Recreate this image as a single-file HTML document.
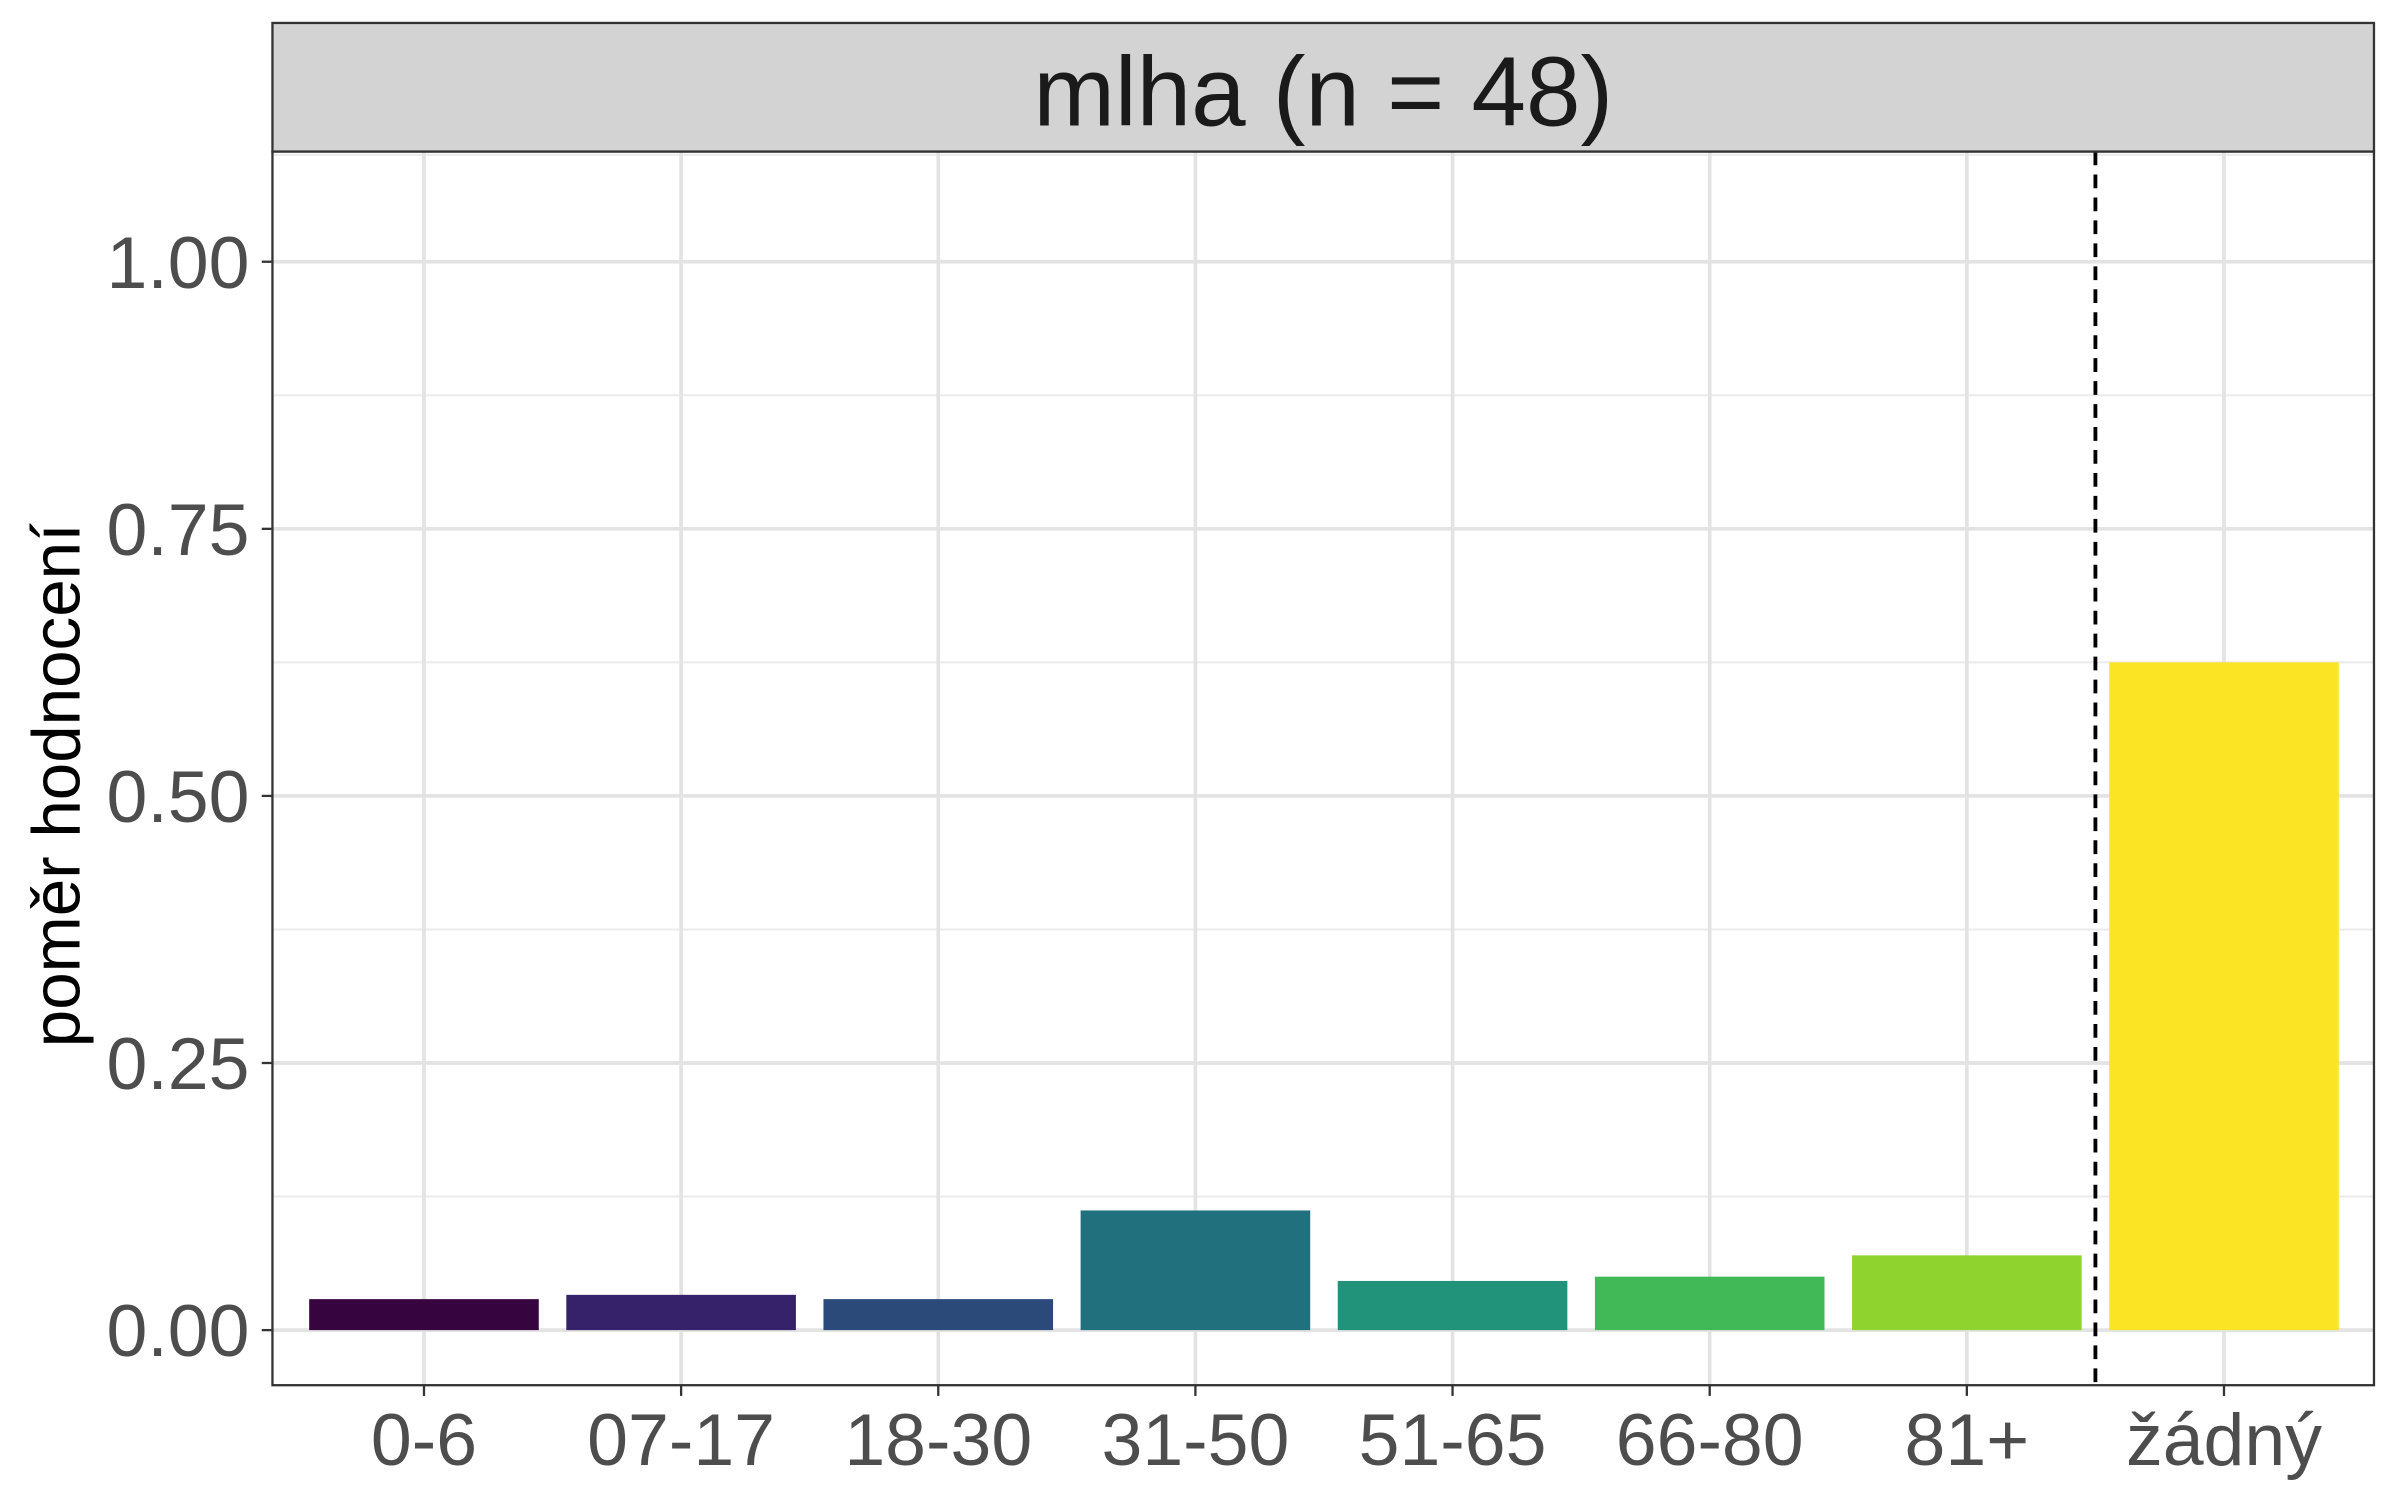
<!DOCTYPE html>
<html><head><meta charset="utf-8"><style>html,body{margin:0;padding:0;background:#fff}svg{display:block}</style></head>
<body>
<svg id="chart" width="2400" height="1500" viewBox="0 0 1568 980" xmlns="http://www.w3.org/2000/svg" font-family="Liberation Sans, Arial, sans-serif"></svg>
<script>
const categories = ["0-6","07-17","18-30","31-50","51-65","66-80","81+","žádný"];
const values = [0.029,0.033,0.029,0.112,0.046,0.050,0.070,0.625];
const colors = ["#36043e","#36216b","#2b4a7a","#21707d","#21937a","#41b957","#8fd42e","#fbe423"];
const yTicks = [0,0.25,0.5,0.75,1];
const yTickLabels = ["0.00","0.25","0.50","0.75","1.00"];
const yMinor = [0.125,0.375,0.625,0.875,1.1];
const NS="http://www.w3.org/2000/svg";
const svg=document.getElementById('chart');
const L=178,R=1551,T=99,B=905;
const y0=869, yPer=698;
const y=v=>y0-v*yPer;
const x=i=>277+i*168;
const bw=150;
function el(tag,attrs,parent){const e=document.createElementNS(NS,tag);for(const k in attrs)e.setAttribute(k,attrs[k]);(parent||svg).appendChild(e);return e;}
const plot=el('rect',{x:L,y:T,width:R-L,height:B-T,fill:'#fff'});


yMinor.forEach(v=>{if(y(v)>T){const l=el('line',{x1:L,x2:R,y1:y(v),y2:y(v),stroke:'#ebebeb','stroke-width':1.3});

}});
yTicks.forEach((v,i)=>{const l=el('line',{x1:L,x2:R,y1:y(v),y2:y(v),stroke:'#e3e3e3','stroke-width':2.4});


const tk=el('line',{x1:L-7,x2:L,y1:y(v),y2:y(v),stroke:'#333','stroke-width':1.5});


const t=el('text',{x:L-15,y:y(v)+17,'text-anchor':'end','font-size':48,fill:'#4d4d4d'});t.textContent=yTickLabels[i];

});
categories.forEach((c,i)=>{const l=el('line',{x1:x(i),x2:x(i),y1:T,y2:B,stroke:'#e3e3e3','stroke-width':2.4});

});
categories.forEach((c,i)=>{const r=el('rect',{x:x(i)-bw/2,y:y(values[i]),width:bw,height:y(0)-y(values[i]),fill:colors[i]});


const tk=el('line',{x1:x(i),x2:x(i),y1:B,y2:B+7,stroke:'#333','stroke-width':1.5});


const t=el('text',{x:x(i),y:B+52,'text-anchor':'middle','font-size':48,fill:'#4d4d4d'});t.textContent=c;

});
const d=el('line',{x1:(x(6)+x(7))/2,x2:(x(6)+x(7))/2,y1:T,y2:B,stroke:'#000','stroke-width':2.5,'stroke-dasharray':'9,6'});


const border=el('rect',{x:L,y:T,width:R-L,height:B-T,fill:'none',stroke:'#333','stroke-width':1.5});


const strip=el('rect',{x:L,y:15,width:R-L,height:T-15,fill:'#d3d3d3',stroke:'#333','stroke-width':1.5});


const st=el('text',{x:(L+R)/2,y:82,'text-anchor':'middle','font-size':64,fill:'#1a1a1a'});st.textContent='mlha (n = 48)';


const yt=el('text',{x:0,y:0,transform:'translate(52,513) rotate(-90)','text-anchor':'middle','font-size':44,fill:'#000'});yt.textContent='poměr hodnocení';


</script>
</body></html>
